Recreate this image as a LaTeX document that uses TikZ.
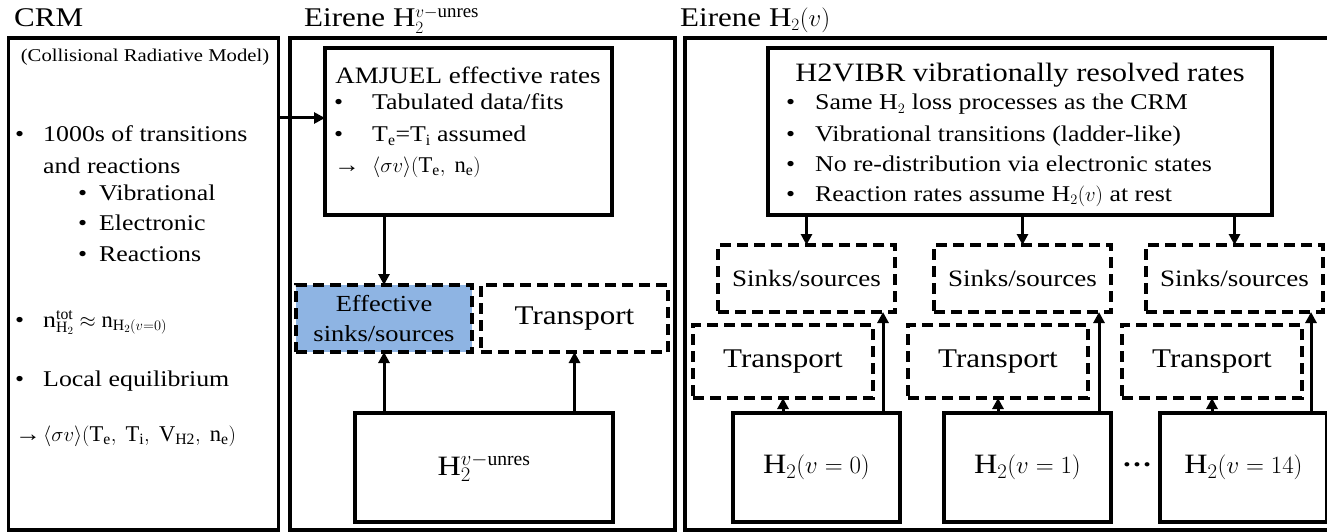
\documentclass[tikz,border=0pt]{standalone}
\usepackage{fontspec}
\setmainfont{Liberation Serif}[FakeStretch=1.15]
\setmathrm{Liberation Serif}
\usetikzlibrary{arrows.meta,calc}
\newcommand\fsz[1]{\fontsize{#1pt}{1.4\dimexpr#1pt\relax}\selectfont}
\newcommand\rarr{{\bfseries →}}
\definecolor{effblue}{RGB}{142,180,227}
\begin{document}
\begin{tikzpicture}[x=1pt,y=-1pt,
  box/.style={draw, line width=3.5pt, inner sep=0pt, outer sep=0pt},
  dbox/.style={box, dash pattern=on 11pt off 6pt},
  arr/.style={line width=3pt, -{Triangle[length=11pt,width=11pt]}},
  ttl/.style={anchor=base west, font=\fsz{27}, inner sep=0pt},
  itm/.style={anchor=base west, font=\fsz{22.5}, inner sep=0pt}]
\useasboundingbox (0,0) rectangle (1327,532);
\clip (0,0) rectangle (1327,532);
% titles
\node[ttl] (tcrm) at (14,27) {CRM};
\node[ttl] (tmid) at (304,27) {Eirene H$_2^{v-\mathrm{unres}}$};
\node[ttl] (trgt) at (680,27) {Eirene H$_2(v)$};
% outer panels
\node[box, minimum width=270, minimum height=492] (crm) at (143.5,284) {};
\node[box, minimum width=385, minimum height=492] (mid) at (482.5,284) {};
\node[box, minimum width=660, minimum height=492] (rgt) at (1015,284) {};
% CRM text
\node[font=\fsz{18}] (crmsub) at (145,57) {(Collisional Radiative Model)};
\node[itm] (c1) at (15,142) {\makebox[28pt][l]{\textbullet}1000s of transitions};
\node[itm] (c2) at (43,173) {and reactions};
\node[itm] (c3) at (78,200) {\makebox[21pt][l]{\textbullet}Vibrational};
\node[itm] (c4) at (78,230) {\makebox[21pt][l]{\textbullet}Electronic};
\node[itm] (c5) at (78,261) {\makebox[21pt][l]{\textbullet}Reactions};
\node[itm] (c6) at (15,327) {\makebox[28pt][l]{\textbullet}n$_{\mathrm{H}_2}^{\mathrm{tot}}\approx\mathrm{n}_{\mathrm{H}_2(v=0)}$};
\node[itm] (c7) at (15,386) {\makebox[28pt][l]{\textbullet}Local equilibrium};
\node[itm] (c8) at (15,441) {\makebox[28pt][l]{\rarr}$\langle\sigma v\rangle(\mathrm{T_e},\;\mathrm{T_i},\;\mathrm{V_{H2}},\;\mathrm{n_e})$};
% middle panel
\node[box, minimum width=287, minimum height=167] (amj) at (468.5,131.5) {};
\node[font=\fsz{23.5}] (amjt) at (468,75) {AMJUEL effective rates};
\node[itm] (a1) at (334,110) {\makebox[38pt][l]{\textbullet}Tabulated data/fits};
\node[itm] (a2) at (334,142) {\makebox[38pt][l]{\textbullet}T$_\mathrm{e}$=T$_\mathrm{i}$ assumed};
\node[itm] (a3) at (334,172) {\makebox[38pt][l]{\rarr}$\langle\sigma v\rangle(\mathrm{T_e},\;\mathrm{n_e})$};
\node[dbox, fill=effblue, minimum width=176, minimum height=67, align=center, font=\fontsize{23pt}{30pt}\selectfont] (eff) at (384,318.5) {Effective\\sinks/sources};
\node[dbox, minimum width=187, minimum height=67, font=\fsz{27}] (tr) at (574.5,318.5) {Transport};
\node[box, minimum width=258, minimum height=109, font=\fsz{28}] (unres) at (484,467.5) {H$_2^{v-\mathrm{unres}}$};
\coordinate (a1p) at ([yshift=13.5pt]amj.west);
\draw[arr] (crm.east |- a1p) -- (a1p);
\draw[arr] (amj.south -| eff.north) -- (eff.north);
\draw[arr] (unres.north -| eff.south) -- (eff.south);
\draw[arr] (unres.north -| tr.south) -- (tr.south);
% right panel
\node[box, minimum width=504, minimum height=167] (vib) at (1020,131.5) {};
\node[font=\fsz{26.5}] (vibt) at (1020,75) {H2VIBR vibrationally resolved rates};
\node[itm] (v1) at (786,110) {\makebox[29pt][l]{\textbullet}Same H$_2$ loss processes as the CRM};
\node[itm] (v2) at (786,141) {\makebox[29pt][l]{\textbullet}Vibrational transitions (ladder-like)};
\node[itm] (v3) at (786,171) {\makebox[29pt][l]{\textbullet}No re-distribution via electronic states};
\node[itm] (v4) at (786,201) {\makebox[29pt][l]{\textbullet}Reaction rates assume H$_2(v)$ at rest};
\foreach \i/\sx/\tx/\hx/\lab in {0/806.5/783/816.5/0, 1/1022.5/998/1027.5/1, 2/1234.5/1212/1243.5/14}{
  \node[dbox, minimum width=177, minimum height=67, font=\fsz{23.5}] (s\i) at (\sx,278.5) {Sinks/sources};
  \node[dbox, minimum width=180, minimum height=73, font=\fsz{27}] (t\i) at (\tx,361.5) {Transport};
  \node[box, minimum width=167, minimum height=109, font=\fsz{28}] (h\i) at (\hx,467.5) {H$_2(v=\lab)$};
  \draw[arr] (vib.south -| s\i.north) -- (s\i.north);
  \draw[arr] (h\i.north -| t\i.south) -- (t\i.south);
  \coordinate (k\i) at ([xshift=-12pt]s\i.south east);
  \draw[arr] (h\i.north -| k\i) -- (k\i);
}
\node[font=\fsz{26}\bfseries] (dots) at (1137,465) {\dots};
\end{tikzpicture}
\end{document}
